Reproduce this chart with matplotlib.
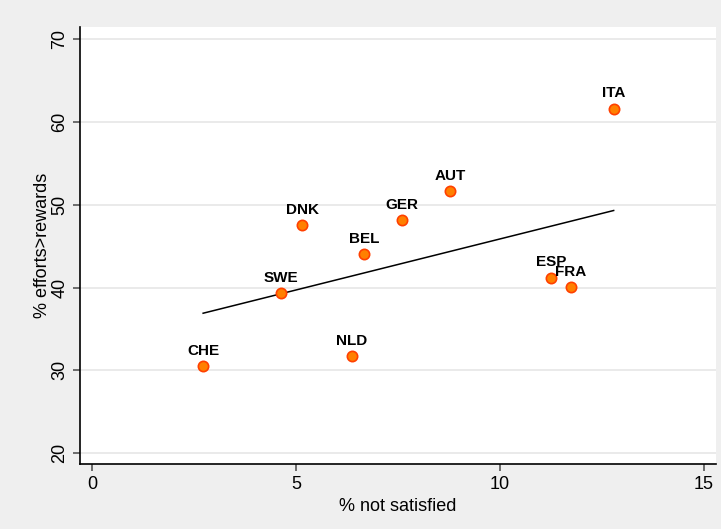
import matplotlib.pyplot as plt
import numpy as np

plt.rcParams['font.family'] = ['Liberation Sans', 'DejaVu Sans']

countries = ["CHE", "NLD", "SWE", "DNK", "BEL", "GER", "AUT", "ESP", "FRA", "ITA"]
not_satisfied = [2.72, 6.37, 4.63, 5.15, 6.67, 7.60, 8.77, 11.25, 11.74, 12.79]
efforts_rewards = [30.5, 31.7, 39.3, 47.5, 44.0, 48.1, 51.7, 41.2, 40.1, 61.6]

# fitted line as drawn in the original (endpoints)
fit_x = [2.72, 12.79]
fit_y = [36.9, 49.3]

fig = plt.figure(figsize=(7.21, 5.29), dpi=100)
fig.patch.set_facecolor("#efefef")
ax = fig.add_axes([80/721, 65/529, 636/721, 437/529])
ax.set_facecolor("white")

# horizontal grid only
ax.set_yticks([20, 30, 40, 50, 60, 70])
ax.set_xticks([0, 5, 10, 15])
ax.grid(axis='y', color="#e8e8e8", linewidth=1.3)
ax.set_axisbelow(True)

ax.plot(fit_x, fit_y, color="black", linewidth=1.1, zorder=2)

ax.scatter(not_satisfied, efforts_rewards, s=55, facecolor="#ff8000",
           edgecolor="#ff4000", linewidth=1.2, zorder=3)
for c, xi, yi in zip(countries, not_satisfied, efforts_rewards):
    ax.annotate(c, (xi, yi), xytext=(0, 8), textcoords="offset points",
                ha="center", va="baseline", fontsize=11, fontweight="bold")

ax.set_xlim(-0.3, 15.3)
ax.set_ylim(18.7, 71.45)

for s in ['top', 'right']:
    ax.spines[s].set_visible(False)
for s in ['left', 'bottom']:
    ax.spines[s].set_color("black")
    ax.spines[s].set_linewidth(1.2)

ax.tick_params(axis='both', direction='out', length=5, width=1.2, color="#555555", labelsize=13)
plt.setp(ax.get_yticklabels(), rotation=90, va='center')
ax.set_xlabel("% not satisfied", fontsize=13, labelpad=4)
ax.set_ylabel("% efforts>rewards", fontsize=13, labelpad=0)

plt.savefig("out.png", dpi=100, facecolor=fig.get_facecolor())
